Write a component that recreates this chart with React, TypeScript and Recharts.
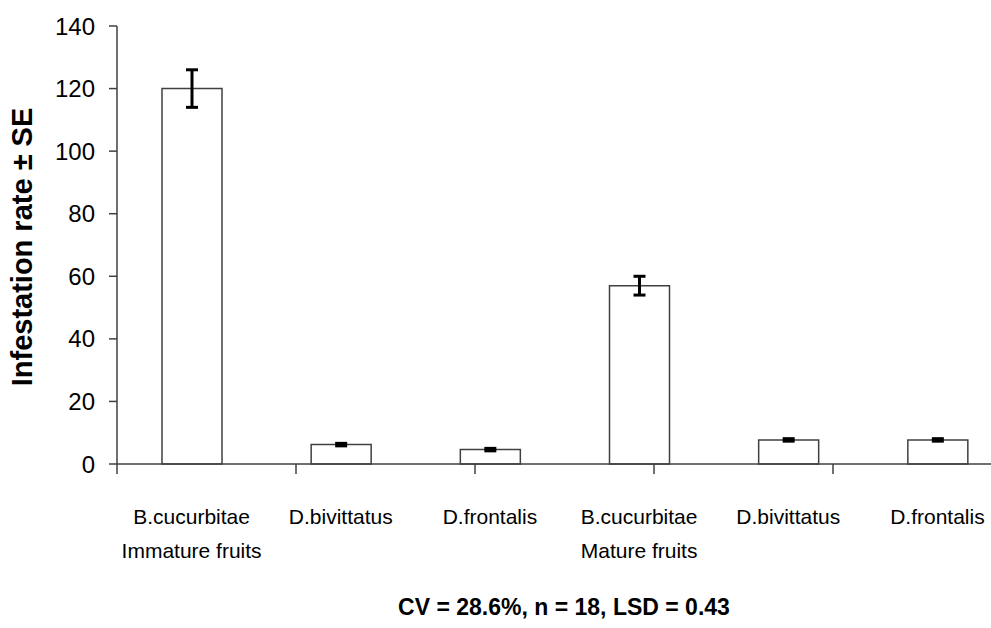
import { ComposedChart, Bar, XAxis, YAxis, ErrorBar, Label } from "recharts";

const species = ["B.cucurbitae", "D.bivittatus", "D.frontalis", "B.cucurbitae", "D.bivittatus", "D.frontalis"];
const stages = ["Immature fruits", "", "", "Mature fruits", "", ""];
const rates = [120, 6.2, 4.6, 57, 7.7, 7.7];
const errors = [6, 0.4, 0.4, 3, 0.4, 0.4];
const yTicks = [0, 20, 40, 60, 80, 100, 120, 140];
const bounds = [0, 1, 2, 3, 4, 5, 6];

const data = species.map((s, i) => ({
    key: `${i}`,
    name: s,
    stage: stages[i],
    rate: rates[i],
    se: errors[i],
}));

const font = "'Liberation Sans', Arial, sans-serif";

function CatTick(props: any) {
    const { x, y, payload } = props;
    const d = data[Number(payload.value)];
    return (
        <g>
            <text x={x} y={y + 51} textAnchor="middle" fill="#000" fontSize={21} fontFamily={font}>
                {d.name}
            </text>
            {d.stage && (
                <text x={x} y={y + 85} textAnchor="middle" fill="#000" fontSize={21} fontFamily={font}>
                    {d.stage}
                </text>
            )}
        </g>
    );
}

function YTitle(props: any) {
    const { x, y, height } = props.viewBox;
    const cx = x + 32;
    const cy = y + height / 2 + 2;
    return (
        <text
            x={cx}
            y={cy}
            transform={`rotate(-90 ${cx} ${cy})`}
            textAnchor="middle"
            fill="#000"
            fontSize={29}
            fontWeight={700}
            fontFamily={font}
        >
            Infestation rate ± SE
        </text>
    );
}

export default function App() {
    return (
        <div style={{ position: "absolute", left: 0, top: 0, width: 991, height: 628, overflow: "hidden", background: "#fff" }}>
            <ComposedChart
                width={1030}
                height={628}
                data={data}
                margin={{ top: 26, right: 18, bottom: 0, left: 0 }}
                barCategoryGap={0}
            >
                <XAxis
                    xAxisId="a"
                    type="number"
                    domain={[0, 6]}
                    ticks={bounds}
                    height={1}
                    stroke="#404040"
                    strokeWidth={1.5}
                    tickSize={10}
                    tick={() => <g />}
                />
                <XAxis
                    xAxisId="b"
                    dataKey="key"
                    height={163}
                    axisLine={false}
                    tickLine={false}
                    tick={<CatTick />}
                    interval={0}
                />
                <YAxis
                    domain={[0, 140]}
                    ticks={yTicks}
                    width={117}
                    stroke="#404040"
                    strokeWidth={1.5}
                    tickSize={8}
                    tickMargin={14}
                    tick={{ fill: "#000", fontSize: 24, fontFamily: font }}
                >
                    <Label content={<YTitle />} />
                </YAxis>
                <Bar
                    xAxisId="b"
                    dataKey="rate"
                    fill="#fff"
                    stroke="#404040"
                    strokeWidth={1.5}
                    barSize={60}
                    isAnimationActive={false}
                >
                    <ErrorBar dataKey="se" width={6} stroke="#000" strokeWidth={3} isAnimationActive={false} />
                </Bar>
            </ComposedChart>
            <div
                style={{
                    position: "absolute",
                    left: 564,
                    top: 594,
                    transform: "translateX(-50%)",
                    whiteSpace: "nowrap",
                    fontFamily: font,
                    fontWeight: 700,
                    fontSize: 23,
                    color: "#000",
                }}
            >
                CV = 28.6%, n = 18, LSD = 0.43
            </div>
        </div>
    );
}
